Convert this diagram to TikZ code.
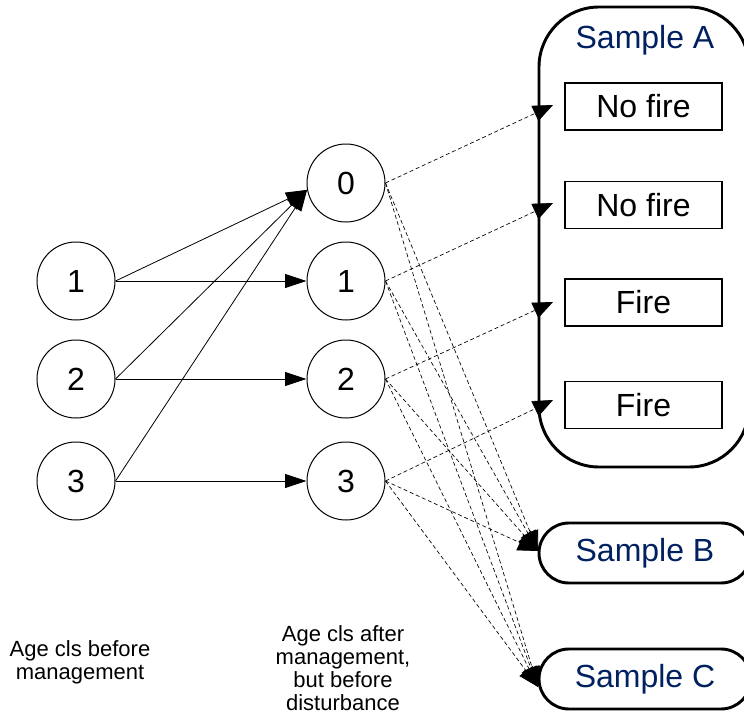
\documentclass[tikz,border=0pt]{standalone}
\usepackage{fontspec}
\setmainfont{Liberation Sans}
\usetikzlibrary{arrows.meta,shapes.misc,positioning}
\definecolor{sampleblue}{RGB}{0,32,96}

\tikzset{
  agecls/.style={draw, circle, line width=0.75pt, minimum size=58.5pt, inner sep=0pt,
    font=\fontsize{24}{28}\selectfont},
  firebox/.style={draw, line width=1.2pt, minimum width=117.5pt, minimum height=35pt,
    inner sep=0pt, font=\fontsize{24}{28}\selectfont},
  samplebox/.style={draw, rounded rectangle, line width=2.2pt, minimum width=159pt,
    minimum height=45pt, inner sep=0pt, text=sampleblue, font=\fontsize{24}{28}\selectfont},
  solidarr/.style={-{Triangle[length=16pt,width=10.5pt]}, line width=0.6pt},
  dasharr/.style={-{Triangle[length=15pt,width=12.5pt]}, line width=0.5pt,
    dash pattern=on 3pt off 2pt},
  note/.style={align=center, font=\fontsize{16.5}{17.4}\selectfont}
}

\begin{document}
\begin{tikzpicture}[x=0.75pt, y=-0.75pt]
        \useasboundingbox (0,0) rectangle (744,721);

        % Sample A container
        \node[draw, line width=2.2pt, rounded corners=45pt, minimum width=157.5pt,
              minimum height=345pt] (sA) at (644,237) {};
        \node[text=sampleblue, font=\fontsize{24}{28}\selectfont] (sAtitle) at (645,40) {Sample A};
        \node[firebox] (f0) at (643.5,106.5) {No fire};
        \node[firebox] (f1) at (643.5,205) {No fire};
        \node[firebox] (f2) at (643.5,302.5) {Fire};
        \node[firebox] (f3) at (643.5,405) {Fire};
        \foreach \i/\y in {0/105,1/203,2/302,3/400} {
            \coordinate (a\i) at (553,\y);
        }

        % Samples B and C
        \node[samplebox] (sB) at (645,553) {Sample B};
        \node[samplebox] (sC) at (645,679) {Sample C};
        \coordinate (bIn) at (538,551);
        \coordinate (cIn) at (538,687);

        % Age classes before and after management
        \foreach \i/\y in {1/281,2/379,3/481} {
            \node[agecls] (l\i) at (76,\y) {\i};
        }
        \foreach \i/\y in {0/183,1/281,2/379,3/481} {
            \node[agecls] (m\i) at (346,\y) {\i};
        }

        % Management
        \foreach \i in {1,2,3} {
            \draw[solidarr] (l\i.east) -- (m0.190);
            \draw[solidarr] (l\i.east) -- (m\i.west);
        }

        % Disturbance
        \foreach \i in {0,...,3} {
            \draw[dasharr] (m\i.east) -- (a\i);
            \draw[dasharr] (m\i.east) -- (bIn);
            \draw[dasharr] (m\i.east) -- (cIn);
        }

        % Captions
        \node[note] (capBefore) at (80,662) {Age cls before\\management};
        \node[note] (capAfter) at (343,668) {Age cls after\\management,\\but before\\disturbance};
    \end{tikzpicture}
\end{document}
